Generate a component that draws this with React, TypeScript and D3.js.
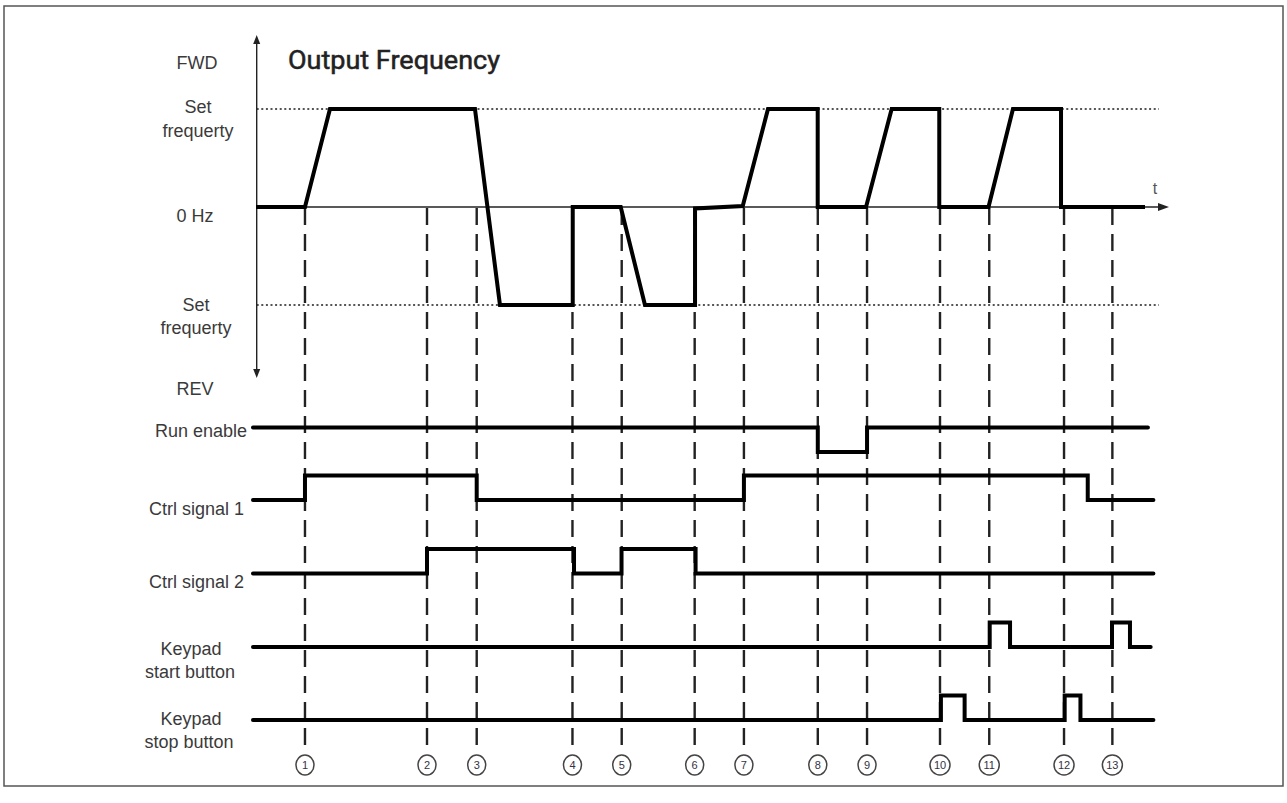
import React from "react";
import * as d3 from "d3";

// ---- data (time in arbitrary units 0..100, frequency as fraction of set frequency) ----
const eventTimes = [5.37, 18.75, 24.2, 34.7, 40.1, 48.1, 53.5, 61.6, 67.0, 75.0, 80.4, 88.6, 93.9];
const eventLabels = ["1", "2", "3", "4", "5", "6", "7", "8", "9", "10", "11", "12", "13"];

const freqTimes = [0, 5.37, 8.11, 24.01, 26.75, 34.73, 34.73, 39.99, 42.65, 48.14, 48.14, 53.37, 56.14, 61.59, 61.59, 66.89, 69.7, 74.92, 74.92, 80.32, 83.0, 88.27, 88.27, 97.48];
const freqValues = [0, 0, 1, 1, -1, -1, 0, 0, -1, -1, -0.015, 0.01, 1, 1, 0, 0, 1, 1, 0, 0, 1, 1, 0, 0];

const signalNames = ["Run enable", "Ctrl signal 1", "Ctrl signal 2", "Keypad start button", "Keypad stop button"];
// edges: times where level changes; levels: level for each segment
const runEnableEdges = [-0.33, 61.6, 67.0, 97.8];
const runEnableLevels = [1, 0, 1];
const ctrl1Edges = [-0.33, 5.37, 24.2, 53.5, 91.2, 98.4];
const ctrl1Levels = [0, 1, 0, 1, 0];
const ctrl2Edges = [-0.33, 18.75, 34.87, 40.08, 48.2, 98.4];
const ctrl2Levels = [0, 1, 0, 1, 0];
const startEdges = [-0.33, 80.45, 82.68, 93.86, 95.83, 98.1];
const startLevels = [0, 1, 0, 1, 0];
const stopEdges = [-0.33, 75.1, 77.7, 88.67, 90.4, 98.4];
const stopLevels = [0, 1, 0, 1, 0];

const signalEdges = [runEnableEdges, ctrl1Edges, ctrl2Edges, startEdges, stopEdges];
const signalLevels = [runEnableLevels, ctrl1Levels, ctrl2Levels, startLevels, stopLevels];

// ---- layout ----
const W = 1287;
const H = 803;
const signalLow = [452, 500, 573.5, 647, 720];
const signalAmp = 24.5;

export default function App() {
  const x = d3.scaleLinear().domain([0, 100]).range([256, 1168]);
  const y = d3.scaleLinear().domain([-1, 1]).range([305, 109]);

  const freqLine = d3
    .line<number>()
    .x((_, i) => x(freqTimes[i]))
    .y((_, i) => y(freqValues[i]))
    .curve(d3.curveLinear);
  const freqPath = freqLine(freqValues) || "";

  const sigPath = (idx: number) => {
    const edges = signalEdges[idx];
    const levels = signalLevels[idx];
    const pts: [number, number][] = [];
    levels.forEach((lv, i) => {
      const yy = signalLow[idx] - lv * signalAmp;
      pts.push([x(edges[i]), yy]);
      pts.push([x(edges[i + 1]), yy]);
    });
    return d3.line()(pts) || "";
  };

  const labelFont = "'Liberation Sans', Arial, sans-serif";
  const labelColor = "#3a3a3a";
  const fs = 18;
  const axisX = x(0) + 0.7;
  const zeroY = y(0);

  return (
    <svg width={W} height={H} style={{ position: "absolute", left: 0, top: 0, background: "#fff" }}>
      {/* frame */}
      <rect x={4} y={6} width={1279} height={780} fill="none" stroke="#555" strokeWidth={1.5} />

      {/* dotted set frequency lines */}
      {[1, -1].map((v) => (
        <line key={v} x1={axisX} x2={x(99)} y1={y(v)} y2={y(v)} stroke="#555" strokeWidth={2} strokeDasharray="2,2.6" />
      ))}

      {/* vertical dashed event lines */}
      {eventTimes.map((t, i) => (
        <line key={i} x1={x(t)} x2={x(t)} y1={zeroY + 1} y2={753} stroke="#222" strokeWidth={2.4} strokeDasharray="17,9" />
      ))}

      {/* vertical axis with arrows */}
      <line x1={axisX} x2={axisX} y1={40} y2={373} stroke="#222" strokeWidth={1.4} />
      <path d={`M${axisX - 3.5},${44} L${axisX},${35} L${axisX + 3.5},${44} Z`} fill="#222" />
      <path d={`M${axisX - 3.5},${369} L${axisX},${378} L${axisX + 3.5},${369} Z`} fill="#222" />

      {/* horizontal time axis */}
      <line x1={axisX} x2={1160} y1={zeroY} y2={zeroY} stroke="#222" strokeWidth={1.3} />
      <path d={`M${1158},${zeroY - 4} L${1169},${zeroY} L${1158},${zeroY + 4} Z`} fill="#222" />
      <text x={1155} y={194} fontFamily={labelFont} fontSize={16} fill="#555" textAnchor="middle">t</text>

      {/* output frequency curve */}
      <path d={freqPath} fill="none" stroke="#000" strokeWidth={4} strokeLinejoin="miter" />

      {/* signals */}
      {signalNames.map((_, i) => (
        <path key={i} d={sigPath(i)} fill="none" stroke="#000" strokeWidth={4} strokeLinecap="round" strokeLinejoin="miter" />
      ))}

      {/* frequency axis labels */}
      <g fontFamily={labelFont} fontSize={fs} fill={labelColor} textAnchor="middle">
        <text x={197} y={69}>FWD</text>
        <text x={198} y={113}>Set</text>
        <text x={198} y={137}>frequerty</text>
        <text x={195} y={222}>0 Hz</text>
        <text x={196} y={311}>Set</text>
        <text x={196} y={334}>frequerty</text>
        <text x={195} y={395}>REV</text>
      </g>

      {/* title */}
      <text x={288} y={69} fontFamily="Roboto, 'Noto Sans', sans-serif" fontWeight={400} fontSize={25} fill="#222" stroke="#222" strokeWidth={0.5} textLength={212} lengthAdjust="spacingAndGlyphs">
        Output Frequency
      </text>

      {/* signal labels */}
      <g fontFamily={labelFont} fontSize={fs} fill={labelColor}>
        <text x={247} y={437} textAnchor="end">Run enable</text>
        <text x={244} y={515} textAnchor="end">Ctrl signal 1</text>
        <text x={244} y={588} textAnchor="end">Ctrl signal 2</text>
        <text x={191} y={655} textAnchor="middle">Keypad</text>
        <text x={190} y={678} textAnchor="middle">start button</text>
        <text x={191} y={725} textAnchor="middle">Keypad</text>
        <text x={189} y={748} textAnchor="middle">stop button</text>
      </g>

      {/* event markers */}
      {eventTimes.map((t, i) => (
        <g key={i}>
          <ellipse cx={x(t)} cy={765} rx={eventLabels[i].length > 1 ? 10 : 9} ry={10} fill="#fff" stroke="#444" strokeWidth={1.5} />
          <text x={x(t)} y={769} fontFamily={labelFont} fontSize={11} fill="#334" textAnchor="middle">
            {eventLabels[i]}
          </text>
        </g>
      ))}
    </svg>
  );
}
